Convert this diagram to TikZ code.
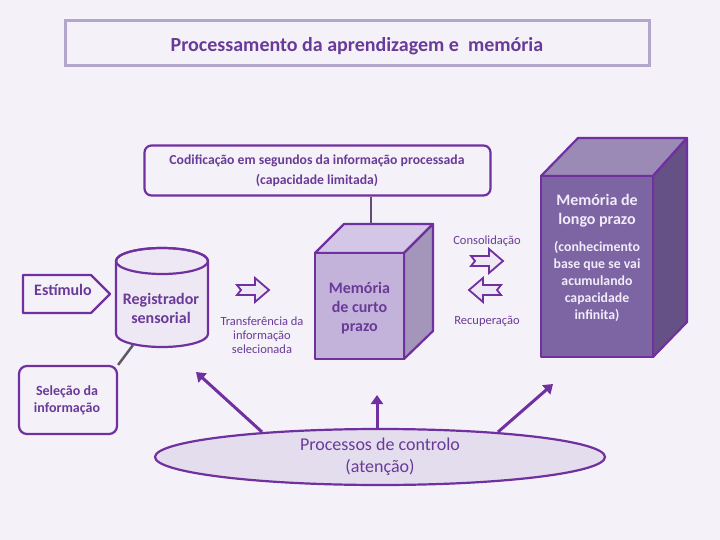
\documentclass[tikz,border=0pt]{standalone}
\usepackage{fontspec}
\setmainfont{Carlito}
\usetikzlibrary{arrows.meta,shapes.geometric}
\definecolor{bg}{HTML}{F4F2F8}
\definecolor{pur}{HTML}{7030A0}
\definecolor{dpur}{HTML}{6A3A98}
\definecolor{titleborder}{HTML}{B3A8CB}
\definecolor{stfront}{HTML}{C3B3DA}
\definecolor{sttop}{HTML}{D3C6E6}
\definecolor{stside}{HTML}{A496BA}
\definecolor{ltfront}{HTML}{7C65A2}
\definecolor{lttop}{HTML}{9B89B6}
\definecolor{ltside}{HTML}{655185}
\definecolor{lttext}{HTML}{F2ECFA}
\definecolor{lightfill}{HTML}{EDE8F3}
\definecolor{ellfill}{HTML}{E4DDEE}
\definecolor{greyline}{HTML}{5E5868}
\tikzset{
  txt/.style={text=dpur, align=center, inner sep=0pt},
  outl/.style={draw=pur, line width=2.2pt, line join=round},
  blockarr/.style={draw=pur, fill=lightfill, line width=1.8pt, line join=miter},
  ctrlarrow/.style={draw=pur, line width=3pt, -{Triangle[length=9pt,width=12pt]}},
  rarrow/.pic={\path[blockarr] (-16,-5) -- (2,-5) -- (2,-12) -- (16,0) -- (2,12) -- (2,5) -- (-16,5) -- (-12,0) -- cycle;},
  larrow/.pic={\path[blockarr] (16,-5) -- (-2,-5) -- (-2,-12) -- (-16,0) -- (-2,12) -- (-2,5) -- (16,5) -- (12,0) -- cycle;}
}
\begin{document}
\begin{tikzpicture}[x=1pt,y=-1pt]
\fill[bg] (0,0) rectangle (720,540);
\useasboundingbox (0,0) rectangle (720,540);

% title
\node[draw=titleborder, line width=2.5pt, minimum width=584pt, minimum height=45pt, inner sep=0pt] (titlebox) at (357.5,43) {};
\node[txt, font=\fontsize{20}{22}\selectfont\bfseries] (title) at (357,46) {Processamento da aprendizagem e\ \ memória};

% codificacao
\node[outl, rounded corners=7pt, minimum width=346pt, minimum height=50pt, inner sep=0pt] (codif) at (317.5,170.5) {};
\node[txt, font=\fontsize{13.7}{20}\selectfont\bfseries] (codiftxt) at (317,170.5) {Codificação em segundos da informação processada\\(capacidade limitada)};

% short-term cube
\coordinate (stc) at (371,224);
\path[outl, fill=sttop] (315,253) -- (344,224) -- (433,224) -- (404,253) -- cycle;
\path[outl, fill=stside] (404,253) -- (433,224) -- (433,331) -- (404,359) -- cycle;
\path[outl, fill=stfront] (315,253) rectangle (404,359);
\node[txt, font=\fontsize{16}{19}\selectfont\bfseries] (stm) at (359.5,308) {Memória\\de curto\\prazo};
\draw[greyline!70!pur, line width=2.5pt] (codif.south -| stc) -- (stc);

% long-term cube
\path[outl, fill=lttop] (541,176) -- (578,138) -- (687,138) -- (653,176) -- cycle;
\path[outl, fill=ltside] (653,176) -- (687,138) -- (687,322) -- (653,357) -- cycle;
\path[outl, fill=ltfront] (541,176) rectangle (653,357);
\node[txt, text=lttext, font=\fontsize{16}{19}\selectfont\bfseries] (ltm) at (597,210.5) {Memória de\\longo prazo};
\node[txt, text=lttext, font=\fontsize{13.8}{17}\selectfont\bfseries] (ltmsub) at (597,281) {(conhecimento\\base que se vai\\acumulando\\capacidade\\infinita)};

% estimulo
\path[outl, fill=bg] (23,275) -- (91,275) -- (110,294) -- (91,313) -- (23,313) -- cycle;
\node[txt, font=\fontsize{16}{17}\selectfont\bfseries] (estim) at (63,290) {Estímulo};

% cylinder
\path[outl, fill=lightfill] (116,261) -- (116,334) arc[start angle=180,end angle=0,x radius=46,y radius=13] -- (208,261) arc[start angle=0,end angle=-180,x radius=46,y radius=13] -- cycle;
\draw[outl] (162,261) ellipse[x radius=46,y radius=13];
\node[txt, font=\fontsize{16}{19}\selectfont\bfseries] (reg) at (161,308) {Registrador\\sensorial};
\coordinate (cylbot) at (133,345);

% selecao
\node[outl, rounded corners=8pt, minimum width=98pt, minimum height=68pt, inner sep=0pt] (sel) at (68,400) {};
\node[txt, font=\fontsize{14}{17}\selectfont\bfseries] (seltxt) at (67,400) {Seleção da\\informação};
\draw[greyline, line width=2.5pt] (cylbot) -- (sel.north east);

% block arrows
\pic at (253,290) {rarrow};
\pic at (487,261) {rarrow};
\pic at (485,290) {larrow};
\node[txt, font=\fontsize{12.5}{14}\selectfont] (transf) at (262,335) {Transferência da\\informação\\selecionada};
\node[txt, font=\fontsize{12.5}{14}\selectfont] (consol) at (487,241) {Consolidação};
\node[txt, font=\fontsize{12.5}{14}\selectfont] (recup) at (487,321) {Recuperação};

% control ellipse
\node[outl, fill=ellfill, ellipse, minimum width=450pt, minimum height=56pt, inner sep=0pt] (ctrl) at (380,457) {};
\node[txt, font=\fontsize{18}{22}\selectfont] (ctrltxt) at (380,457) {Processos de controlo\\(atenção)};
\coordinate (a1) at (196,372);
\coordinate (a2) at (377,395);
\coordinate (a3) at (553,384);
\draw[ctrlarrow] (262,432) -- (a1);
\draw[ctrlarrow] (ctrl.north -| a2) -- (a2);
\draw[ctrlarrow] (498,432) -- (a3);
\end{tikzpicture}
\end{document}
